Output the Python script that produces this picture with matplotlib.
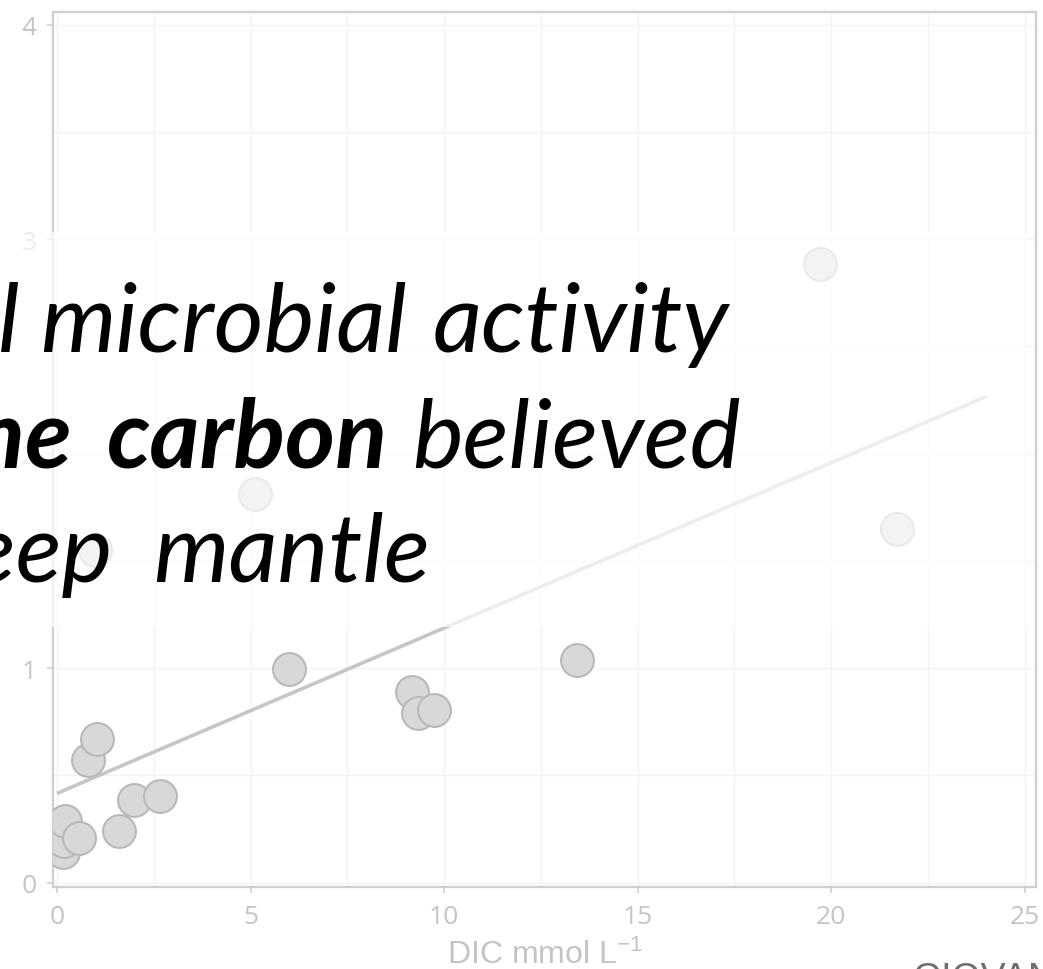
import matplotlib
matplotlib.use('Agg')
import matplotlib.pyplot as plt
from matplotlib.patches import Rectangle
from matplotlib.ticker import MultipleLocator

# values
dic = [0.16, 0.18, 0.21, 0.57, 1.60, 2.00, 2.65, 0.81, 1.04, 0.97,
       5.11, 6.00, 9.16, 9.33, 9.74, 13.44, 19.70, 21.70]
yval = [0.145, 0.193, 0.286, 0.206, 0.239, 0.384, 0.404, 0.572, 0.668, 1.55,
        1.81, 0.994, 0.889, 0.793, 0.805, 1.036, 2.883, 1.647]

# fitted trend line end points
fit_x = [0, 24]
fit_y = [0.416, 2.266]

x_ticks = [0, 5, 10, 15, 20, 25]
y_ticks = [0, 1, 2, 3, 4]
x_label = 'DIC mmol L$^{-1}$'
credit = 'GIOVANNI'

# overlaid quote, word by word: (text, x px, baseline px, align, bold)
quote_words = [
    ('l', -2, 352, 'left', False),
    ('microbial', 40, 352, 'left', False),
    ('activity', 433, 352, 'left', False),
    ('the', 72, 467, 'right', True),
    ('carbon', 107, 467, 'left', True),
    ('believed', 412, 467, 'left', False),
    ('deep', 112, 582, 'right', False),
    ('mantle', 153, 582, 'left', False),
]

W, H = 1043, 970
plt.rcParams['font.family'] = ['Open Sans', 'DejaVu Sans']
plt.rcParams['mathtext.fontset'] = 'custom'
plt.rcParams['mathtext.rm'] = 'Liberation Sans'
plt.rcParams['mathtext.it'] = 'Liberation Sans'

fig = plt.figure(figsize=(W / 100, H / 100), dpi=100)
fig.patch.set_facecolor('white')
ax = fig.add_axes([53 / W, 1 - 888 / H, (1036 - 53) / W, (888 - 13) / H])

ax.plot(fit_x, fit_y, color='#c6c6c6', lw=2.6, solid_capstyle='butt', zorder=2)
ax.scatter(dic, yval, s=560, facecolor='#d8d8d8', edgecolor='#b9b9b9',
           linewidths=1.5, zorder=3)

ax.set_xlim(-0.103, 25.29)
ax.set_ylim(-0.0205, 4.059)
ax.set_xticks(x_ticks)
ax.set_yticks(y_ticks)
ax.xaxis.set_minor_locator(MultipleLocator(2.5))
ax.yaxis.set_minor_locator(MultipleLocator(0.5))
ax.grid(True, which='both', color='#f3f3f3', lw=1.0, zorder=0)
ax.set_axisbelow(True)
for s in ax.spines.values():
    s.set_color('#cfcfcf')
    s.set_linewidth(1.6)
ax.tick_params(which='major', direction='out', length=4, width=1.2,
               color='#cfcfcf', labelcolor='#c4c4c4', labelsize=19)
ax.tick_params(which='minor', length=0)
ax.tick_params(axis='x', pad=8)
ax.tick_params(axis='y', pad=8)
ax.set_xlabel(x_label, fontsize=23, color='#c4c4c4', labelpad=7,
              family=['Liberation Sans', 'DejaVu Sans'])

# white veil behind the quote
fig.add_artist(Rectangle((0, 1 - 628 / H), 1028 / W, (628 - 233) / H,
                         transform=fig.transFigure, facecolor='white',
                         alpha=0.7, edgecolor='none', zorder=5))

for word, px, py, ha, bold in quote_words:
    fig.text(px / W, 1 - py / H, word, ha=ha, va='baseline', fontsize=69,
             style='italic', fontweight='bold' if bold else 'normal',
             family=['Lato', 'DejaVu Sans'], color='black', zorder=6)

fig.text(912 / W, 1 - 962 / H, credit, ha='left', va='top', fontsize=27,
         color='#6e6e6e', family=['Liberation Sans', 'DejaVu Sans'])

fig.savefig('out.png', dpi=100)
